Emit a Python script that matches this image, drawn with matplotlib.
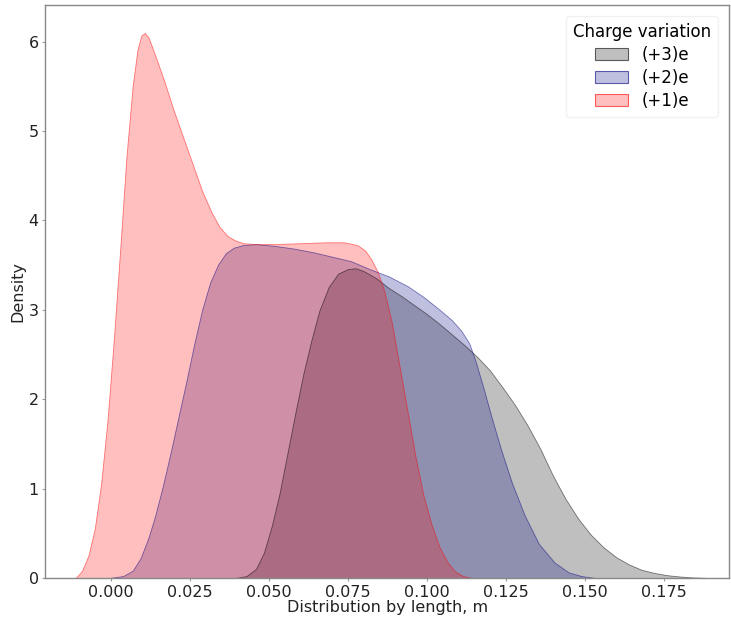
import matplotlib
matplotlib.use("Agg")
import matplotlib.pyplot as plt
from matplotlib.patches import Patch
from matplotlib.colors import to_rgba

# ---- data (KDE density curves) ----
labels = ["(+3)e", "(+2)e", "(+1)e"]
colors = ["black", "navy", "red"]

x_p3 = [0.0400, 0.0430, 0.0460, 0.0485, 0.0510, 0.0535, 0.0560, 0.0585, 0.0610, 0.0635,
        0.0660, 0.0690, 0.0720, 0.0750, 0.0775, 0.0800, 0.0840, 0.0880, 0.0920, 0.0960,
        0.1000, 0.1040, 0.1080, 0.1120, 0.1160, 0.1200, 0.1240, 0.1280, 0.1320, 0.1360,
        0.1400, 0.1440, 0.1480, 0.1520, 0.1560, 0.1600, 0.1640, 0.1680, 0.1720, 0.1760,
        0.1800, 0.1840, 0.1880]
y_p3 = [0.00, 0.02, 0.10, 0.28, 0.58, 0.95, 1.40, 1.85, 2.28, 2.65,
        2.98, 3.25, 3.40, 3.45, 3.46, 3.43, 3.35, 3.24, 3.15, 3.05,
        2.95, 2.84, 2.72, 2.60, 2.47, 2.32, 2.13, 1.93, 1.70, 1.44,
        1.14, 0.88, 0.66, 0.48, 0.34, 0.23, 0.15, 0.09, 0.055, 0.03,
        0.015, 0.005, 0.00]

x_p2 = [0.0000, 0.0040, 0.0070, 0.0095, 0.0120, 0.0140, 0.0165, 0.0190, 0.0215, 0.0240,
        0.0265, 0.0290, 0.0315, 0.0340, 0.0365, 0.0390, 0.0420, 0.0460, 0.0520, 0.0580,
        0.0640, 0.0700, 0.0760, 0.0820, 0.0880, 0.0940, 0.0990, 0.1040, 0.1080, 0.1110,
        0.1135, 0.1155, 0.1180, 0.1205, 0.1235, 0.1270, 0.1310, 0.1355, 0.1405, 0.1450,
        0.1490, 0.1530]
y_p2 = [0.00, 0.02, 0.08, 0.22, 0.45, 0.68, 1.02, 1.40, 1.80, 2.20,
        2.62, 3.00, 3.30, 3.50, 3.63, 3.69, 3.72, 3.73, 3.71, 3.68,
        3.64, 3.59, 3.54, 3.45, 3.37, 3.26, 3.14, 3.00, 2.88, 2.76,
        2.62, 2.42, 2.12, 1.80, 1.44, 1.06, 0.70, 0.38, 0.17, 0.06,
        0.02, 0.00]

x_p1 = [-0.0110, -0.0090, -0.0070, -0.0050, -0.0030, -0.0010, 0.0010, 0.0030, 0.0050, 0.0070,
        0.0085, 0.0097, 0.0108, 0.0120, 0.0140, 0.0170, 0.0200, 0.0230, 0.0260, 0.0290,
        0.0320, 0.0345, 0.0370, 0.0395, 0.0420, 0.0460, 0.0520, 0.0600, 0.0680, 0.0740,
        0.0780, 0.0805, 0.0825, 0.0845, 0.0865, 0.0890, 0.0915, 0.0940, 0.0965, 0.0990,
        0.1015, 0.1040, 0.1065, 0.1090, 0.1115, 0.1140]
y_p1 = [0.00, 0.08, 0.25, 0.55, 1.05, 1.75, 2.65, 3.65, 4.70, 5.50,
        5.90, 6.06, 6.09, 6.04, 5.85, 5.55, 5.22, 4.92, 4.62, 4.32,
        4.08, 3.92, 3.82, 3.77, 3.74, 3.73, 3.73, 3.74, 3.75, 3.75,
        3.72, 3.66, 3.56, 3.42, 3.22, 2.85, 2.35, 1.85, 1.35, 0.92,
        0.60, 0.35, 0.18, 0.07, 0.02, 0.00]

xs = [x_p3, x_p2, x_p1]
ys = [y_p3, y_p2, y_p1]

plt.rcParams['font.family'] = ['DejaVu Sans']
fig = plt.figure(figsize=(7.31, 6.18), dpi=100)
ax = fig.add_axes([0.0616, 0.0642, 0.936, 0.928])

for x, y, c in zip(xs, ys, colors):
    ax.fill_between(x, 0, y, facecolor=c, alpha=0.25, linewidth=0)
    ax.plot(x, y, color=c, linewidth=0.6, alpha=0.5, solid_joinstyle="round")

ax.set_xlim(-0.0209, 0.1956)
ax.set_ylim(0, 6.41)
ax.set_xticks([0.000, 0.025, 0.050, 0.075, 0.100, 0.125, 0.150, 0.175])
ax.set_xticklabels(["0.000", "0.025", "0.050", "0.075", "0.100", "0.125", "0.150", "0.175"])
ax.set_yticks([0, 1, 2, 3, 4, 5, 6])
ax.tick_params(labelsize=11.5, length=2, color="#999999", pad=2.5, labelcolor="#222222")
for s in ax.spines.values():
    s.set_color("#888888")
    s.set_linewidth(1.0)

ax.set_xlabel("Distribution by length, m", fontsize=11.5, labelpad=0, color="#222222")
ax.set_ylabel("Density", fontsize=11.5, labelpad=2, color="#222222")

handles = [Patch(facecolor=to_rgba(c, 0.25), edgecolor=to_rgba(c, 0.6),
                 linewidth=0.8, label=l)
           for c, l in zip(colors, labels)]
leg = ax.legend(handles=handles, title="Charge variation", loc="upper right",
                fontsize=12, title_fontsize=12, frameon=True, framealpha=0.8,
                edgecolor="#eeeeee", fancybox=True, borderaxespad=0.7,
                handlelength=2.0, handletextpad=0.8, labelspacing=0.3)

fig.savefig("out.png", dpi=100)
